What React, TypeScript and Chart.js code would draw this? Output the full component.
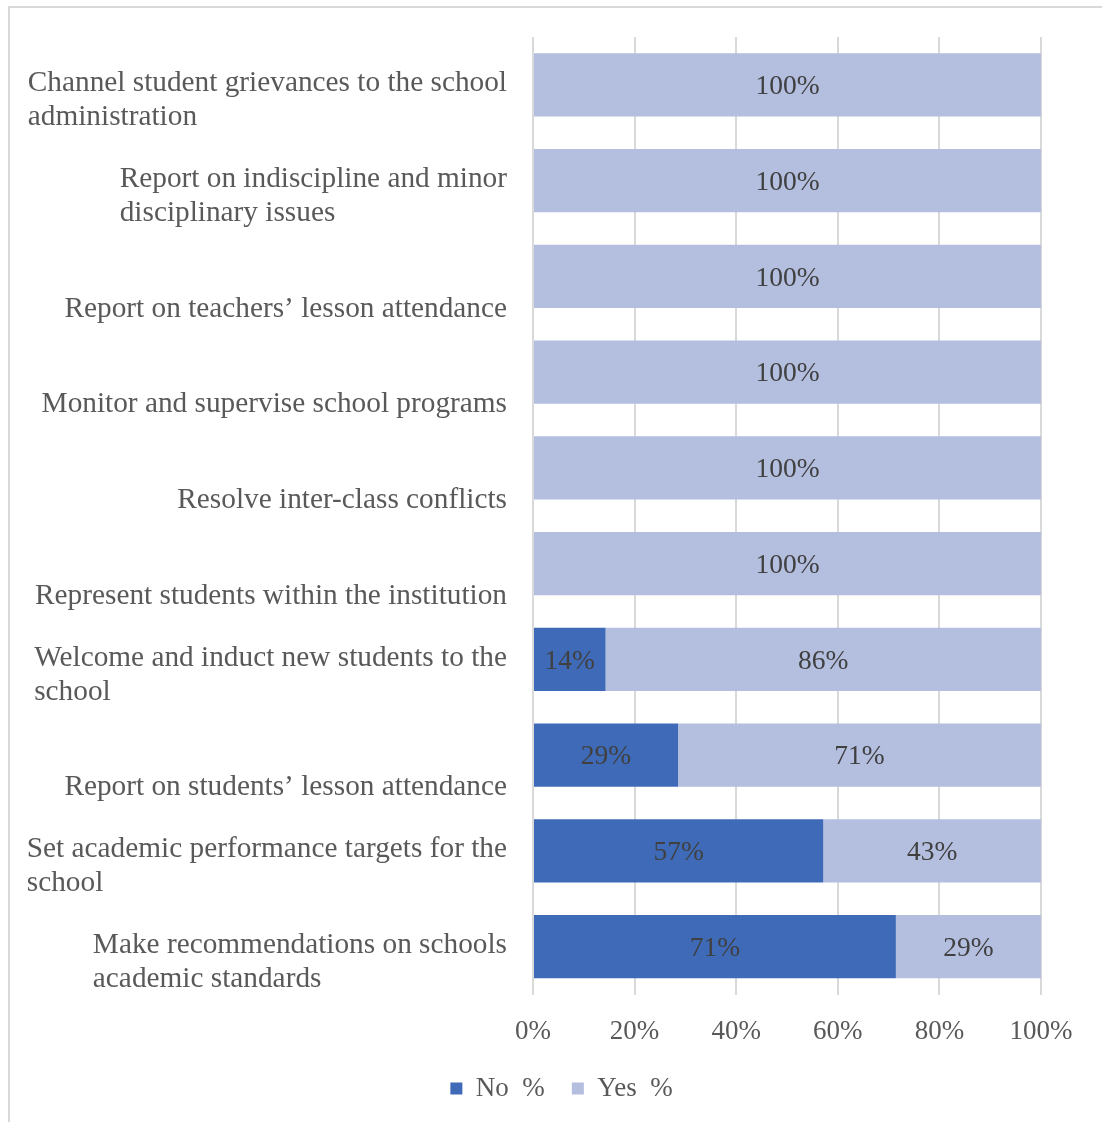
import React, { useEffect, useRef } from "react";
import { Chart, registerables } from "chart.js";

Chart.register(...registerables);

const categories: string[][] = [
  ["Channel student grievances to the school", "administration"],
  ["Report on indiscipline and minor", "disciplinary issues"],
  ["Report on teachers’ lesson attendance"],
  ["Monitor and supervise school programs"],
  ["Resolve inter-class conflicts"],
  ["Represent students within the institution"],
  ["Welcome and induct new students to the", "school"],
  ["Report on students’ lesson attendance"],
  ["Set academic performance targets for the", "school"],
  ["Make recommendations on schools", "academic standards"],
];

const noValues = [0, 0, 0, 0, 0, 0, 14.29, 28.57, 57.14, 71.43];
const yesValues = [100, 100, 100, 100, 100, 100, 85.71, 71.43, 42.86, 28.57];

const seriesNames = ["No  %", "Yes  %"];
const xTicks = [0, 20, 40, 60, 80, 100];

const FONT = '"Liberation Serif", "Times New Roman", serif';
const NO_COLOR = "#3E6AB7";
const YES_COLOR = "#B4BFE0";
const TEXT_COLOR = "#595959";
const LABEL_COLOR = "#404040";

const dataLabelPlugin = {
  id: "segmentLabels",
  afterDatasetsDraw(chart: any) {
    const ctx = chart.ctx;
    ctx.save();
    ctx.font = `27.5px ${FONT}`;
    ctx.fillStyle = LABEL_COLOR;
    ctx.textAlign = "center";
    ctx.textBaseline = "middle";
    chart.data.datasets.forEach((ds: any, d: number) => {
      const meta = chart.getDatasetMeta(d);
      meta.data.forEach((bar: any, i: number) => {
        const v = ds.data[i];
        if (!v) return;
        const x = (bar.x + bar.base) / 2;
        ctx.fillText(Math.round(v) + "%", x, bar.y + 2);
      });
    });
    ctx.restore();
  },
};

const categoryLabelPlugin = {
  id: "categoryLabels",
  afterDraw(chart: any) {
    const ctx = chart.ctx;
    const yScale = chart.scales.y;
    const rightEdge = yScale.right - 26;
    const lineH = 34;
    ctx.save();
    ctx.font = `29.3px ${FONT}`;
    ctx.fillStyle = TEXT_COLOR;
    ctx.textAlign = "left";
    ctx.textBaseline = "middle";
    categories.forEach((lines, i) => {
      const yc = yScale.getPixelForTick(i);
      const w = Math.max(...lines.map((l) => ctx.measureText(l).width));
      const x0 = rightEdge - w;
      const n = lines.length;
      lines.forEach((line, k) => {
        const y = yc + 32.5 - (n - 1 - k) * lineH;
        ctx.fillText(line, x0, y);
      });
    });
    ctx.restore();
  },
};

export default function App() {
  const canvasRef = useRef<HTMLCanvasElement | null>(null);

  useEffect(() => {
    document.body.style.overflow = "hidden";
    const canvas = canvasRef.current;
    if (!canvas) return;
    const chart = new Chart(canvas, {
      type: "bar",
      data: {
        labels: categories.map((c) => c.join(" ")),
        datasets: [
          {
            label: seriesNames[0],
            data: noValues,
            backgroundColor: NO_COLOR,
            borderWidth: 0,
            barPercentage: 0.66,
            categoryPercentage: 1,
          },
          {
            label: seriesNames[1],
            data: yesValues,
            backgroundColor: YES_COLOR,
            borderWidth: 0,
            barPercentage: 0.66,
            categoryPercentage: 1,
          },
        ],
      },
      options: {
        indexAxis: "y",
        responsive: false,
        animation: false,
        layout: { padding: { top: 37, right: 61, left: 82, bottom: 10 } },
        scales: {
          x: {
            stacked: true,
            min: 0,
            max: 100,
            afterBuildTicks(scale: any) {
              scale.ticks = xTicks.map((v) => ({ value: v }));
            },
            afterFit(scale: any) {
              scale.height = scale.height - 21;
            },
            ticks: {
              callback: (v: any) => v + "%",
              color: TEXT_COLOR,
              font: { family: FONT, size: 27 },
              padding: 21,
            },
            grid: {
              color: "#D9D9D9",
              lineWidth: 2,
              drawTicks: false,
            },
            border: { display: false },
          },
          y: {
            stacked: true,
            afterFit(scale: any) {
              scale.width = 451;
            },
            ticks: { display: false },
            grid: { display: false },
            border: { display: false },
          },
        },
        plugins: {
          legend: {
            position: "bottom",
            labels: {
              boxWidth: 12,
              boxHeight: 12,
              padding: 27,
              color: TEXT_COLOR,
              font: { family: FONT, size: 27 },
            },
          },
          tooltip: { enabled: false },
        },
      },
      plugins: [dataLabelPlugin, categoryLabelPlugin],
    } as any);
    return () => chart.destroy();
  }, []);

  return (
    <div>
      <div
        style={{
          position: "fixed",
          left: 8,
          top: 6,
          width: 1200,
          height: 1200,
          borderTop: "2px solid #D9D9D9",
          borderLeft: "2px solid #D9D9D9",
          background: "#fff",
        }}
      />
      <canvas
        ref={canvasRef}
        width={1102}
        height={1122}
        style={{ position: "fixed", left: 0, top: 0, display: "block" }}
      />
    </div>
  );
}
